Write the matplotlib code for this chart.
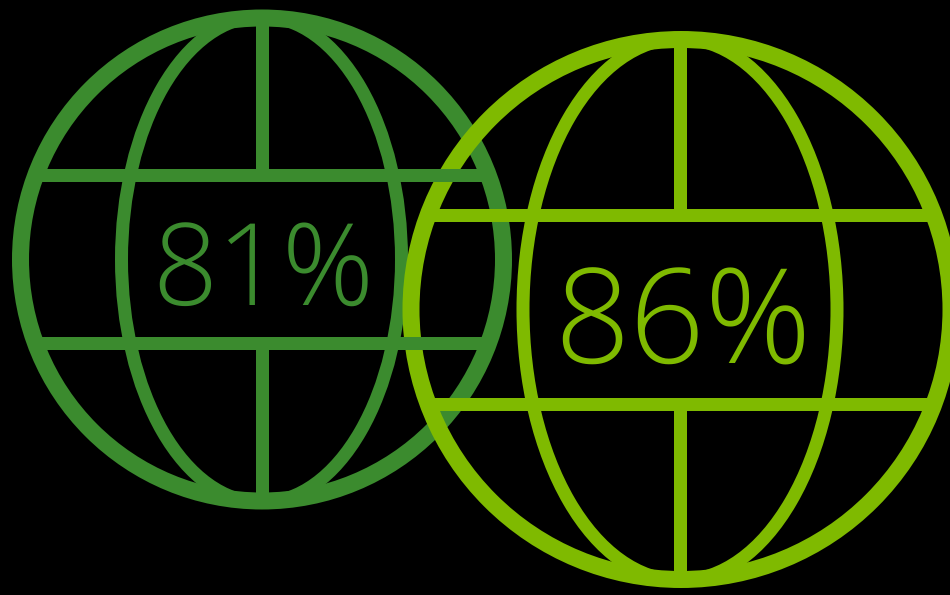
import matplotlib
matplotlib.use('Agg')
import matplotlib.pyplot as plt
from matplotlib.patches import Circle, Ellipse

# datos
labels = ['81%', '86%']
colores = ['#3B8B2E', '#7FBA00']

# geometria de cada globo, en pixeles de la imagen
centros_x = [262, 681]
centros_y = [259.5, 309.5]
radios = [241.5, 270]
semi_ancho = [140, 157]
semi_alto = [243, 271]
lineas_y = [(175, 343), (215, 404)]
eje_x = [261.5, 680]
texto_x = [263.5, 683]
texto_y = [306, 364]
tam_fuente = [82, 95]

PX = 72 / 100  # de pixeles a puntos con dpi=100

plt.rcParams['text.hinting'] = 'no_hinting'

fig = plt.figure(figsize=(9.5, 5.95), dpi=100, facecolor='black')
ax = fig.add_axes([0, 0, 1, 1])
ax.set_xlim(0, 950)
ax.set_ylim(595, 0)
ax.axis('off')

for i in range(2):
    cx, cy, r = centros_x[i], centros_y[i], radios[i]
    color = colores[i]
    y_sup, y_inf = lineas_y[i]

    # recorte: nada sale del aro exterior
    borde = Circle((cx, cy), r, transform=ax.transData)

    ax.add_patch(Ellipse((eje_x[i], cy), 2 * semi_ancho[i], 2 * semi_alto[i], fill=False,
                         edgecolor=color, linewidth=13 * PX, clip_path=borde))
    # el meridiano se corta en la banda del texto
    ax.plot([eje_x[i], eje_x[i]], [cy - r, y_sup], color=color, linewidth=13 * PX,
            solid_capstyle='butt', clip_path=borde)
    ax.plot([eje_x[i], eje_x[i]], [y_inf, cy + r], color=color, linewidth=13 * PX,
            solid_capstyle='butt', clip_path=borde)
    for y in lineas_y[i]:
        ax.plot([cx - r, cx + r], [y, y], color=color, linewidth=13 * PX,
                solid_capstyle='butt', clip_path=borde)
    ax.add_patch(Circle((cx, cy), r, fill=False, edgecolor=color, linewidth=17 * PX))

    ax.text(texto_x[i], texto_y[i], labels[i], color=color, fontsize=tam_fuente[i],
            family='Open Sans', fontweight='light', ha='center', va='baseline')

fig.savefig('out.png', dpi=100, facecolor='black')
